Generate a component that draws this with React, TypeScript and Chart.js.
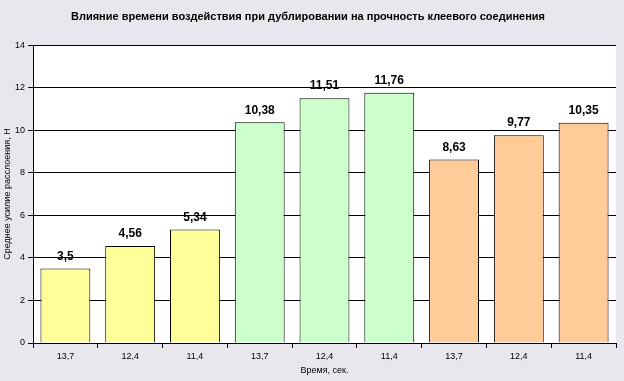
import React, { useEffect, useRef } from "react";
import { Chart, registerables } from "chart.js";

Chart.register(...registerables);

const categories = ["13,7", "12,4", "11,4", "13,7", "12,4", "11,4", "13,7", "12,4", "11,4"];
const values = [3.5, 4.56, 5.34, 10.38, 11.51, 11.76, 8.63, 9.77, 10.35];
const valueLabels = ["3,5", "4,56", "5,34", "10,38", "11,51", "11,76", "8,63", "9,77", "10,35"];
const barColors = ["#FFFF99", "#FFFF99", "#FFFF99", "#CCFFCC", "#CCFFCC", "#CCFFCC", "#FFCC99", "#FFCC99", "#FFCC99"];
const titleText = "Влияние времени воздействия при дублировании на прочность клеевого соединения";
const yTitle = "Среднее усилие расслоения, Н";
const xTitle = "Время, сек.";

const FONT = "Arial, 'Liberation Sans', sans-serif";

const bgPlugin = {
  id: "bgPlugin",
  beforeDraw(chart: any) {
    const { ctx, chartArea } = chart;
    ctx.save();
    ctx.fillStyle = "#E9E7ED";
    ctx.fillRect(0, 0, chart.width, chart.height);
    ctx.fillStyle = "#FFFFFF";
    ctx.fillRect(chartArea.left, chartArea.top, chartArea.right - chartArea.left, chartArea.bottom - chartArea.top);
    ctx.restore();
  },
};

const labelPlugin = {
  id: "labelPlugin",
  afterDatasetsDraw(chart: any) {
    const { ctx } = chart;
    const meta = chart.getDatasetMeta(0);
    ctx.save();
    ctx.font = `bold 12px ${FONT}`;
    ctx.fillStyle = "#000";
    ctx.textAlign = "center";
    ctx.textBaseline = "bottom";
    meta.data.forEach((bar: any, i: number) => {
      ctx.fillText(valueLabels[i], bar.x, bar.y - 6);
    });
    ctx.restore();
  },
};

export default function App() {
  const ref = useRef<HTMLCanvasElement>(null);
  useEffect(() => {
    if (!ref.current) return;
    const chart = new Chart(ref.current, {
      type: "bar",
      data: {
        labels: categories,
        datasets: [
          {
            data: values,
            backgroundColor: barColors,
            borderColor: "#000",
            borderWidth: 1,
            barPercentage: 0.77,
            categoryPercentage: 1,
          },
        ],
      },
      options: {
        animation: false,
        responsive: false,
        devicePixelRatio: 1,
        layout: { padding: { left: 0, right: 8, top: 0, bottom: 0 } },
        plugins: {
          legend: { display: false },
          tooltip: { enabled: false },
          title: {
            display: true,
            text: titleText,
            color: "#000",
            font: { family: FONT, size: 11, weight: "bold" },
            padding: { top: 10, bottom: 22 },
          },
        },
        scales: {
          x: {
            afterFit: (s: any) => {
              s.height = 38;
            },
            grid: {
              display: true,
              drawOnChartArea: false,
              drawTicks: true,
              tickLength: 5,
              color: "#000",
              offset: true,
            },
            border: { display: true, color: "#000" },
            ticks: { color: "#000", font: { family: FONT, size: 9 }, padding: 3, maxRotation: 0, autoSkip: false },
            title: {
              display: true,
              text: xTitle,
              color: "#000",
              font: { family: FONT, size: 9 },
              padding: { top: 5, bottom: 5 },
            },
          },
          y: {
            min: 0,
            max: 14,
            afterFit: (s: any) => {
              s.width = 33;
            },
            ticks: { stepSize: 2, color: "#000", font: { family: FONT, size: 9 }, padding: 3 },
            grid: { color: "#000", tickLength: 5, lineWidth: 1 },
            border: { display: true, color: "#000" },
            title: {
              display: true,
              text: yTitle,
              color: "#000",
              font: { family: FONT, size: 9 },
              padding: { top: 2, bottom: 2 },
            },
          },
        },
      },
      plugins: [bgPlugin, labelPlugin],
    });
    return () => chart.destroy();
  }, []);
  return (
    <div style={{ position: "fixed", left: 0, top: 0, width: 624, height: 381, background: "#E9E7ED" }}>
      <canvas ref={ref} width={624} height={381} style={{ display: "block" }} />
    </div>
  );
}
